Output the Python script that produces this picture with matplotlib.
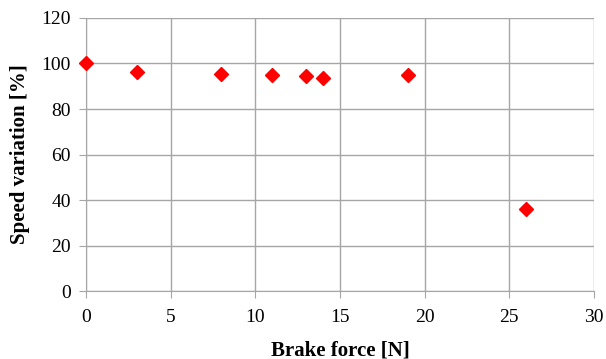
import matplotlib.pyplot as plt

brake_force = [0, 3, 8, 11, 13, 14, 19, 26]
speed_variation = [100, 96.3, 95.4, 94.9, 94.3, 93.8, 94.9, 36]

plt.rcParams['font.family'] = ['Liberation Serif', 'DejaVu Serif']

fig = plt.figure(figsize=(6.06, 3.59), dpi=100)
ax = fig.add_axes([0.142, 0.189, 0.838, 0.761])

ax.plot(brake_force, speed_variation, linestyle='none', marker='D',
        markersize=7.5, color='#ff0000', zorder=3, clip_on=False)

ax.set_xlim(0, 30)
ax.set_ylim(0, 120)
ax.set_xticks(range(0, 31, 5))
ax.set_yticks(range(0, 121, 20))

ax.grid(True, color='#a6a6a6', linewidth=1)
for side in ['top', 'right']:
    ax.spines[side].set_visible(False)
for side in ['left', 'bottom']:
    ax.spines[side].set_color('#a6a6a6')
ax.tick_params(direction='out', length=5, color='#a6a6a6', labelsize=14)
ax.tick_params(axis='x', pad=8)
ax.tick_params(axis='y', pad=6)

ax.set_xlabel('Brake force [N]', fontsize=15, fontweight='bold', labelpad=10)
ax.set_ylabel('Speed variation [%]', fontsize=15, fontweight='bold', labelpad=8)

plt.savefig('out.png', dpi=100)
